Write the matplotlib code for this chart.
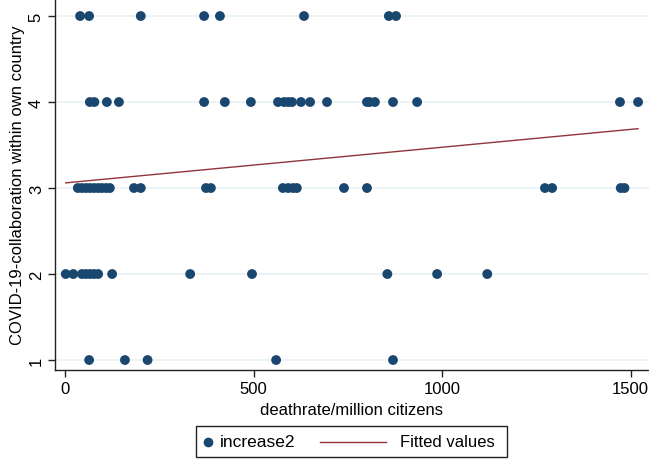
import numpy as np
import matplotlib
matplotlib.use("Agg")
import matplotlib.pyplot as plt
from matplotlib.lines import Line2D
from matplotlib.patches import Rectangle

plt.rcParams['font.family'] = ['Liberation Sans', 'DejaVu Sans']

# Data
deaths_lvl5 = [40, 64, 201, 369, 411, 634, 859, 878]
deaths_lvl4 = [66, 78, 111, 143, 369, 424, 493, 565, 581, 592, 602, 626, 650, 695,
               801, 808, 822, 870, 934, 1472, 1520]
deaths_lvl3 = [34, 45, 56, 66, 77, 88, 98, 109, 119, 183, 201, 374, 387, 578, 592,
               605, 615, 740, 801, 1273, 1292, 1474, 1484]
deaths_lvl2 = [2, 22, 45, 56, 66, 77, 88, 125, 332, 496, 855, 987, 1120]
deaths_lvl1 = [64, 159, 219, 560, 870]
levels = [5, 4, 3, 2, 1]

fit_x = [2, 1520]
fit_y = [3.06, 3.69]

xticks = [0, 500, 1000, 1500]
yticks = [1, 2, 3, 4, 5]
legend_labels = ['increase2', 'Fitted values']

navy = '#1a476f'
maroon = '#90353b'
FS = 12

W, H = 649, 460
fig = plt.figure(figsize=(W/100, H/100), dpi=100)
ax = fig.add_axes([55/W, (H-371)/H, 1 - 55/W, 371/H])

groups = [deaths_lvl5, deaths_lvl4, deaths_lvl3, deaths_lvl2, deaths_lvl1]
xs = np.concatenate([np.asarray(g, float) for g in groups])
ys = np.concatenate([np.full(len(g), lv, float) for g, lv in zip(groups, levels)])

for yv in yticks:
    ax.axhline(yv, color='#eaf2f3', lw=1.2, zorder=0)

ax.scatter(xs, ys, s=50, color=navy, edgecolors='none', zorder=3, clip_on=False)
ax.plot(fit_x, fit_y, color=maroon, lw=1.0, zorder=4)

ax.set_xlim(-26.5, 1549)
ax.set_ylim(0.884, 5.198)

for s in ['top', 'right']:
    ax.spines[s].set_visible(False)
for s in ['left', 'bottom']:
    ax.spines[s].set_color('#222222')
    ax.spines[s].set_linewidth(1.0)

ax.set_xticks(xticks)
ax.set_yticks(yticks)
ax.set_xticklabels([str(t) for t in xticks], fontsize=FS)
ax.set_yticklabels([str(t) for t in yticks], fontsize=FS, rotation=90, va='center')
ax.tick_params(axis='both', direction='out', length=5, width=1, color='#222222', pad=3)

ax.set_xlabel('deathrate/million citizens', fontsize=FS, labelpad=4)
ax.set_ylabel('COVID-19-collaboration within own country', fontsize=FS, labelpad=3)

# Legend (drawn in figure pixel space)
def fx(px):
    return px / W

def fy(py):
    return (H - py) / H

fig.add_artist(Rectangle((fx(196), fy(458)), fx(507) - fx(196), fy(427) - fy(458),
                         transform=fig.transFigure, facecolor='white',
                         edgecolor='#222222', lw=1.0))
fig.add_artist(Line2D([fx(208)], [fy(442.5)], marker='o', color='none',
                      markerfacecolor=navy, markeredgecolor='none', markersize=7,
                      transform=fig.transFigure))
fig.text(fx(220), fy(442.5), legend_labels[0], fontsize=12.5, va='center', ha='left')
fig.add_artist(Line2D([fx(320), fx(386)], [fy(442.5), fy(442.5)], color=maroon, lw=1.0,
                      transform=fig.transFigure))
fig.text(fx(400), fy(442.5), legend_labels[1], fontsize=FS, va='center', ha='left')

fig.savefig('out.png', dpi=100, facecolor='white')
